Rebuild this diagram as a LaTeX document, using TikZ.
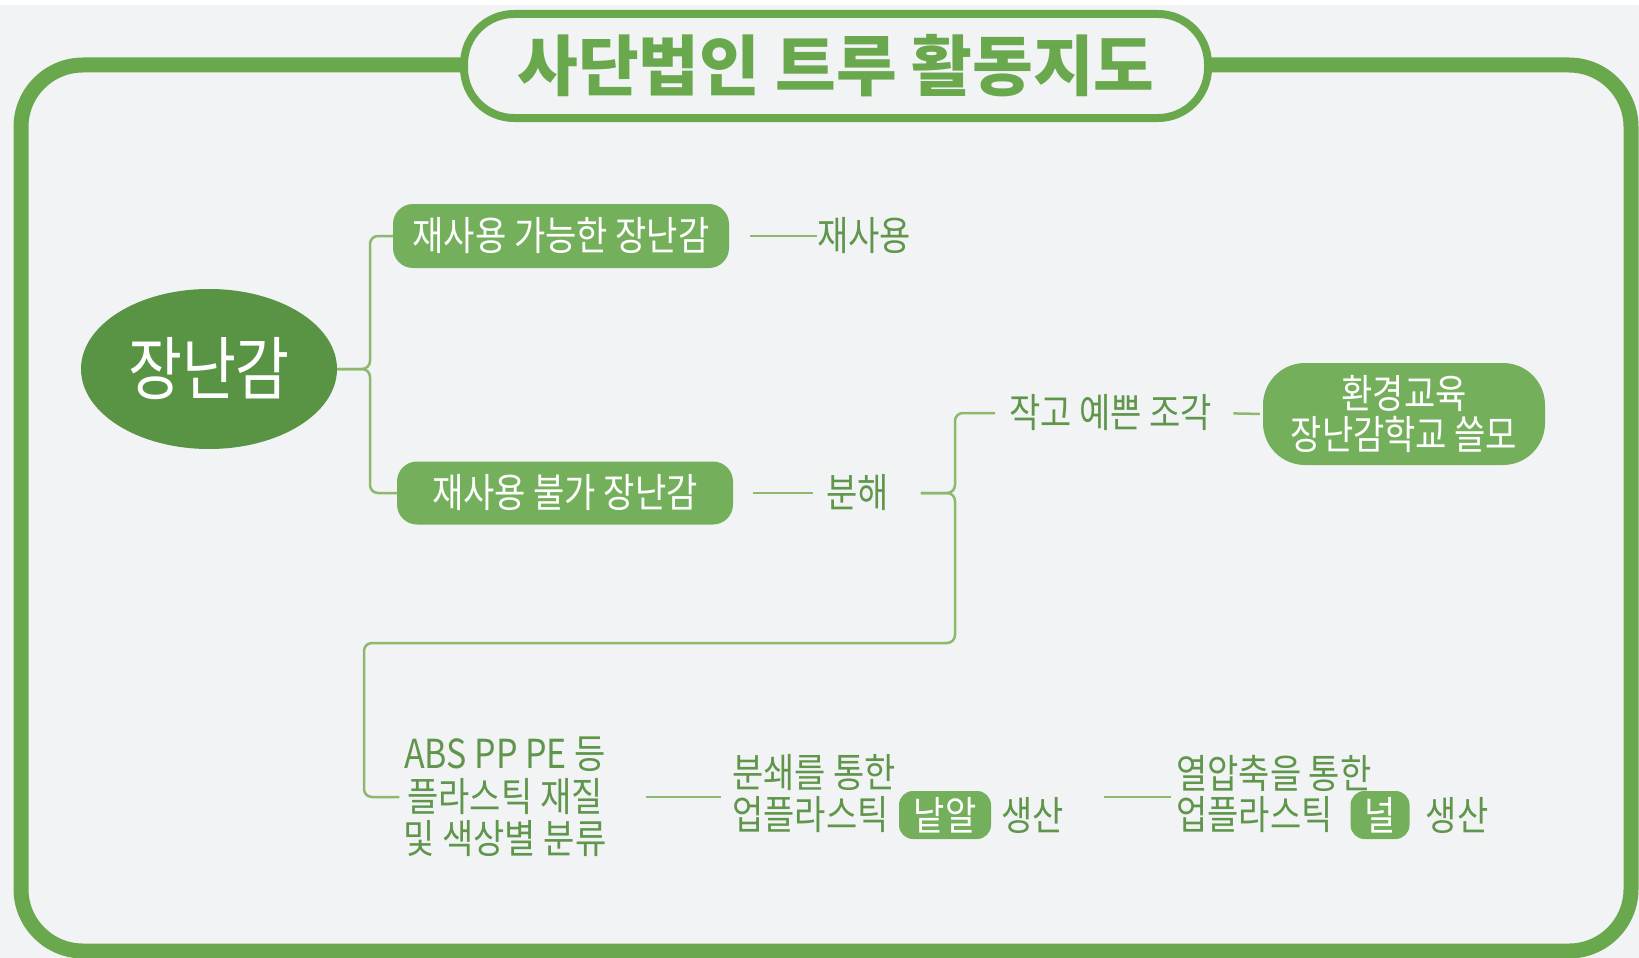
\documentclass[tikz,border=0pt]{standalone}
\usepackage{fontspec}
\usepackage{tikz}
\usetikzlibrary{shapes.geometric,positioning,calc}
\newfontfamily\cjk[FakeStretch=0.85]{Noto Sans CJK KR}
\newfontfamily\cjkwide{Noto Sans CJK KR}
\definecolor{bggray}{RGB}{242,243,245}
\definecolor{frgreen}{RGB}{106,168,77}
\definecolor{darkgreen}{RGB}{88,148,68}
\definecolor{boxgreen}{RGB}{116,176,92}
\definecolor{txtgreen}{RGB}{95,150,75}
\definecolor{linegreen}{RGB}{140,185,110}
\tikzstyle{mybox} = [draw=none, rectangle, rounded corners=20pt, fill=boxgreen, text=white, inner sep=0, font=\cjk\fontsize{40}{41}\selectfont]
\tikzstyle{mytext} = [draw=none, inner sep=0, text=txtgreen, font=\cjk\fontsize{40}{42.5}\selectfont]
\tikzstyle{myline} = [draw=linegreen, line width=2.5pt]

\begin{document}
\begin{tikzpicture}[x=1pt,y=-1pt]
    \useasboundingbox (0,0) rectangle (1639,958);
    \fill[bggray] (0,0) rectangle (1639,958);
    \fill[white] (0,0) rectangle (1639,5);
    % Outer frame
    \draw[frgreen, line width=15pt, rounded corners=62pt] (21,65) rectangle (1631,951);
    % Title text
    \node[draw=frgreen, line width=8pt, fill=bggray, rounded corners=50pt,
      minimum width=744pt, minimum height=104pt, inner sep=0,
      text=frgreen, font=\cjkwide\bfseries\fontsize{66}{70}\selectfont]
    (Title) at (836,66) {\raisebox{5pt}{사단법인 트루 활동지도}};
    % Root
    \node[ellipse, fill=darkgreen, minimum width=256pt, minimum height=160pt,
      inner sep=0, text=white, font=\cjk\fontsize{69}{70}\selectfont]
    (Toy) at (209,369) {장난감};
    % First level
    \node[mybox, minimum width=336pt, minimum height=64pt] (Reusable) at (561,236) {재사용 가능한 장난감};
    \node[mybox, minimum width=336pt, minimum height=63pt] (Unusable) at (565,493) {재사용 불가 장난감};
    \node[mytext, anchor=west] (Reuse) at (817,236) {재사용};
    \node[mytext, anchor=west] (Split) at (826,493) {분해};
    % Pieces
    \node[mytext, anchor=west] (Pieces) at (1009,413) {작고 예쁜 조각};
    \node[mybox, rounded corners=42pt, minimum width=282pt, minimum height=102pt, align=center]
    (School) at (1404,414) {환경교육\\장난감학교 쓸모};
    % Plastic
    \node[mytext, align=center] (Sort) at (505,797) {ABS PP PE 등\\플라스틱 재질\\및 색상별 분류};
    \node[mytext, anchor=west] (Crush) at (732,773) {분쇄를 통한};
    \node[mytext, anchor=west] (Upcycle1) at (732,815) {업플라스틱};
    \node[mybox, rounded corners=14pt, minimum width=92pt, minimum height=48pt] (Pellet) at (945,815) {낱알};
    \node[mytext, right=10pt of Pellet] (Make1) {생산};
    \node[mytext, anchor=west] (Press) at (1176,773) {열압축을 통한};
    \node[mytext, anchor=west] (Upcycle2) at (1176,815) {업플라스틱};
    \node[mybox, rounded corners=14pt, minimum width=59pt, minimum height=48pt] (Board) at (1380,815) {널};
    \node[mytext, right=16pt of Board] (Make2) {생산};
    % Connectors
    \draw[myline, rounded corners=8pt] (Toy.east) -- (370,369) |- (Reusable.west);
    \draw[myline, rounded corners=8pt] (Toy.east) -- (370,369) |- (Unusable.west);
    \draw[myline, shorten <=21pt] (Reusable.east) -- (Reuse.west);
    \draw[myline, shorten <=20pt, shorten >=13pt] (Unusable.east) -- (Split.west);
    \draw[myline, rounded corners=8pt, shorten <=32pt, shorten >=14pt] (Split.east) -- (955,493) |- (Pieces.west);
    \draw[myline, rounded corners=8pt, shorten <=32pt, shorten >=4pt] (Split.east) -- (955,493) -- (955,643) -- (364,643) |- (Sort.west);
    \draw[myline, shorten <=21pt, shorten >=3pt] (Pieces.east) -- (School.west);
    \draw[myline, shorten <=39pt, shorten >=11pt] (Sort.east) -- (Sort.east -| Upcycle1.west);
    \draw[myline, shorten <=40pt, shorten >=5pt] (Make1.east |- Sort.east) -- (Sort.east -| Upcycle2.west);
\end{tikzpicture}
\end{document}
